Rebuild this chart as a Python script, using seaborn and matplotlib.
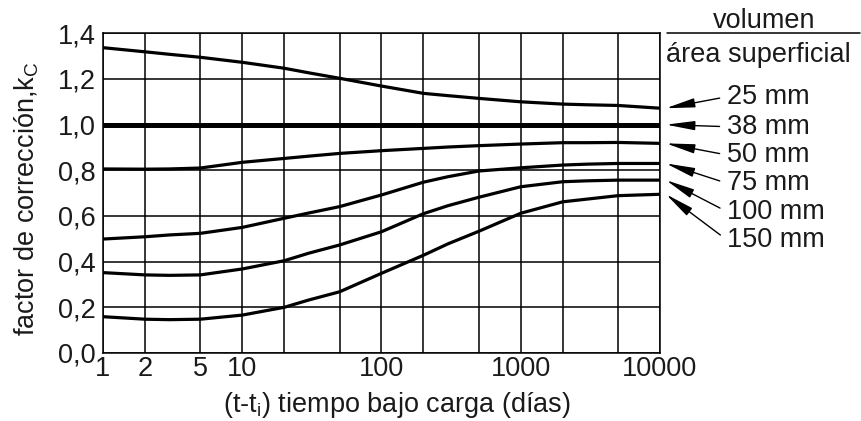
import matplotlib
matplotlib.use("Agg")
import numpy as np
import pandas as pd
import seaborn as sns
import matplotlib.pyplot as plt
from matplotlib.lines import Line2D
from matplotlib.ticker import NullFormatter
from matplotlib.transforms import offset_copy

# ---- data ----
days = [1, 2, 3, 5, 10, 20, 30, 50, 100, 200, 300, 500, 1000, 2000, 3000, 5000, 10000]
kc_25mm = [1.337, 1.319, 1.308, 1.295, 1.273, 1.247, 1.227, 1.203, 1.169, 1.137, 1.127,
           1.115, 1.100, 1.090, 1.087, 1.084, 1.072]
kc_38mm = [1.0, 1.0, 1.0, 1.0, 1.0, 1.0, 1.0, 1.0, 1.0, 1.0, 1.0, 1.0, 1.0, 1.0, 1.0, 1.0, 1.0]
kc_50mm = [0.806, 0.805, 0.806, 0.810, 0.835, 0.852, 0.862, 0.874, 0.886, 0.896, 0.902,
           0.908, 0.915, 0.921, 0.921, 0.922, 0.918]
kc_75mm = [0.499, 0.509, 0.517, 0.524, 0.550, 0.590, 0.613, 0.641, 0.692, 0.748, 0.772,
           0.797, 0.811, 0.823, 0.827, 0.830, 0.830]
kc_100mm = [0.352, 0.342, 0.340, 0.342, 0.368, 0.404, 0.437, 0.473, 0.531, 0.610, 0.645,
            0.682, 0.728, 0.750, 0.754, 0.757, 0.757]
kc_150mm = [0.159, 0.148, 0.146, 0.148, 0.166, 0.200, 0.232, 0.268, 0.349, 0.428, 0.478,
            0.533, 0.612, 0.662, 0.674, 0.689, 0.695]
size_labels = ["25 mm", "38 mm", "50 mm", "75 mm", "100 mm", "150 mm"]
x_tick_values = [1, 2, 5, 10, 100, 1000, 10000]
x_tick_labels = ["1", "2", "5", "10", "100", "1000", "10000"]
x_grid_extra = [20, 50, 200, 500, 2000, 5000]
y_tick_values = [0.0, 0.2, 0.4, 0.6, 0.8, 1.0, 1.2, 1.4]
y_tick_labels = ["0,0", "0,2", "0,4", "0,6", "0,8", "1,0", "1,2", "1,4"]

series = [kc_25mm, kc_38mm, kc_50mm, kc_75mm, kc_100mm, kc_150mm]

# ---- style ----
sns.set_theme(style="white")
plt.rcParams['font.family'] = ['Liberation Sans', 'DejaVu Sans']
plt.rcParams['mathtext.fontset'] = 'custom'
plt.rcParams['mathtext.rm'] = 'Liberation Sans'
plt.rcParams['mathtext.it'] = 'Liberation Sans'
plt.rcParams['mathtext.bf'] = 'Liberation Sans'
FS = 19.5
TXT = '#1a1a1a'

W, H = 862, 421
fig = plt.figure(figsize=(W / 100, H / 100), dpi=100)
L, R, T, B = 103, 660, 33.3, 353
ax = fig.add_axes([L / W, 1 - B / H, (R - L) / W, (B - T) / H])

for name, vals in zip(size_labels, series):
    lw = 3.6 if name == "38 mm" else 2.3
    sns.lineplot(x=days, y=vals, ax=ax, color='black', lw=lw, legend=False,
                 solid_capstyle='butt', solid_joinstyle='round', zorder=3)

ax.set_xscale('log')
ax.set_xlim(1, 10000)
ax.set_ylim(0, 1.4)
ax.set_xticks(x_tick_values)
ax.set_xticklabels(x_tick_labels)
ax.set_xticks(x_grid_extra, minor=True)
ax.xaxis.set_minor_formatter(NullFormatter())
ax.set_yticks(y_tick_values)
ax.set_yticklabels(y_tick_labels)
ax.grid(True, which='both', axis='x', color='black', lw=1.1)
ax.grid(True, which='major', axis='y', color='black', lw=1.1)
ax.set_axisbelow(True)
ax.tick_params(which='both', length=0, labelsize=FS, colors=TXT)
ax.tick_params(axis='x', pad=2)
ax.tick_params(axis='y', pad=5)
for s in ax.spines.values():
    s.set_visible(True)
    s.set_color('black')
    s.set_linewidth(1.1)
ax.set_xlabel("")
ax.set_ylabel("")

# axis titles
fig.text(397 / W, 1 - 405 / H, "(t-t$_\\mathrm{i}$) tiempo bajo carga (días)",
         ha='center', va='center', fontsize=FS, color=TXT)
fig.text(27 / W, 1 - 199 / H, "factor de corrección,k$_\\mathrm{C}$",
         rotation=90, ha='center', va='center', fontsize=FS, color=TXT)

# right-hand key
fig.text(764 / W, 1 - 21 / H, "volumen", ha='center', va='center', fontsize=FS, color=TXT)
fig.add_artist(Line2D([667 / W, 860 / W], [1 - 33.3 / H, 1 - 33.3 / H],
                      transform=fig.transFigure, color='black', lw=1.1))
fig.text(666 / W, 1 - 55 / H, "área superficial", ha='left', va='center', fontsize=FS, color=TXT)

label_y = [96.7, 126.7, 155, 183.3, 211.7, 240]
tip = offset_copy(ax.transData, fig=fig, x=6, y=0, units='dots')
for name, vals, ly in zip(size_labels, series, label_y):
    ax.annotate(name, xy=(days[-1], vals[-1]), xycoords=tip,
                xytext=(727, H - ly), textcoords='figure pixels',
                ha='left', va='center', fontsize=FS, color=TXT,
                annotation_clip=False,
                arrowprops=dict(arrowstyle='-|>,head_length=1.25,head_width=0.2',
                                color='black', lw=1.0, relpos=(0, 0.5),
                                shrinkA=3, shrinkB=0, mutation_scale=14))

fig.savefig("out.png", dpi=100)
